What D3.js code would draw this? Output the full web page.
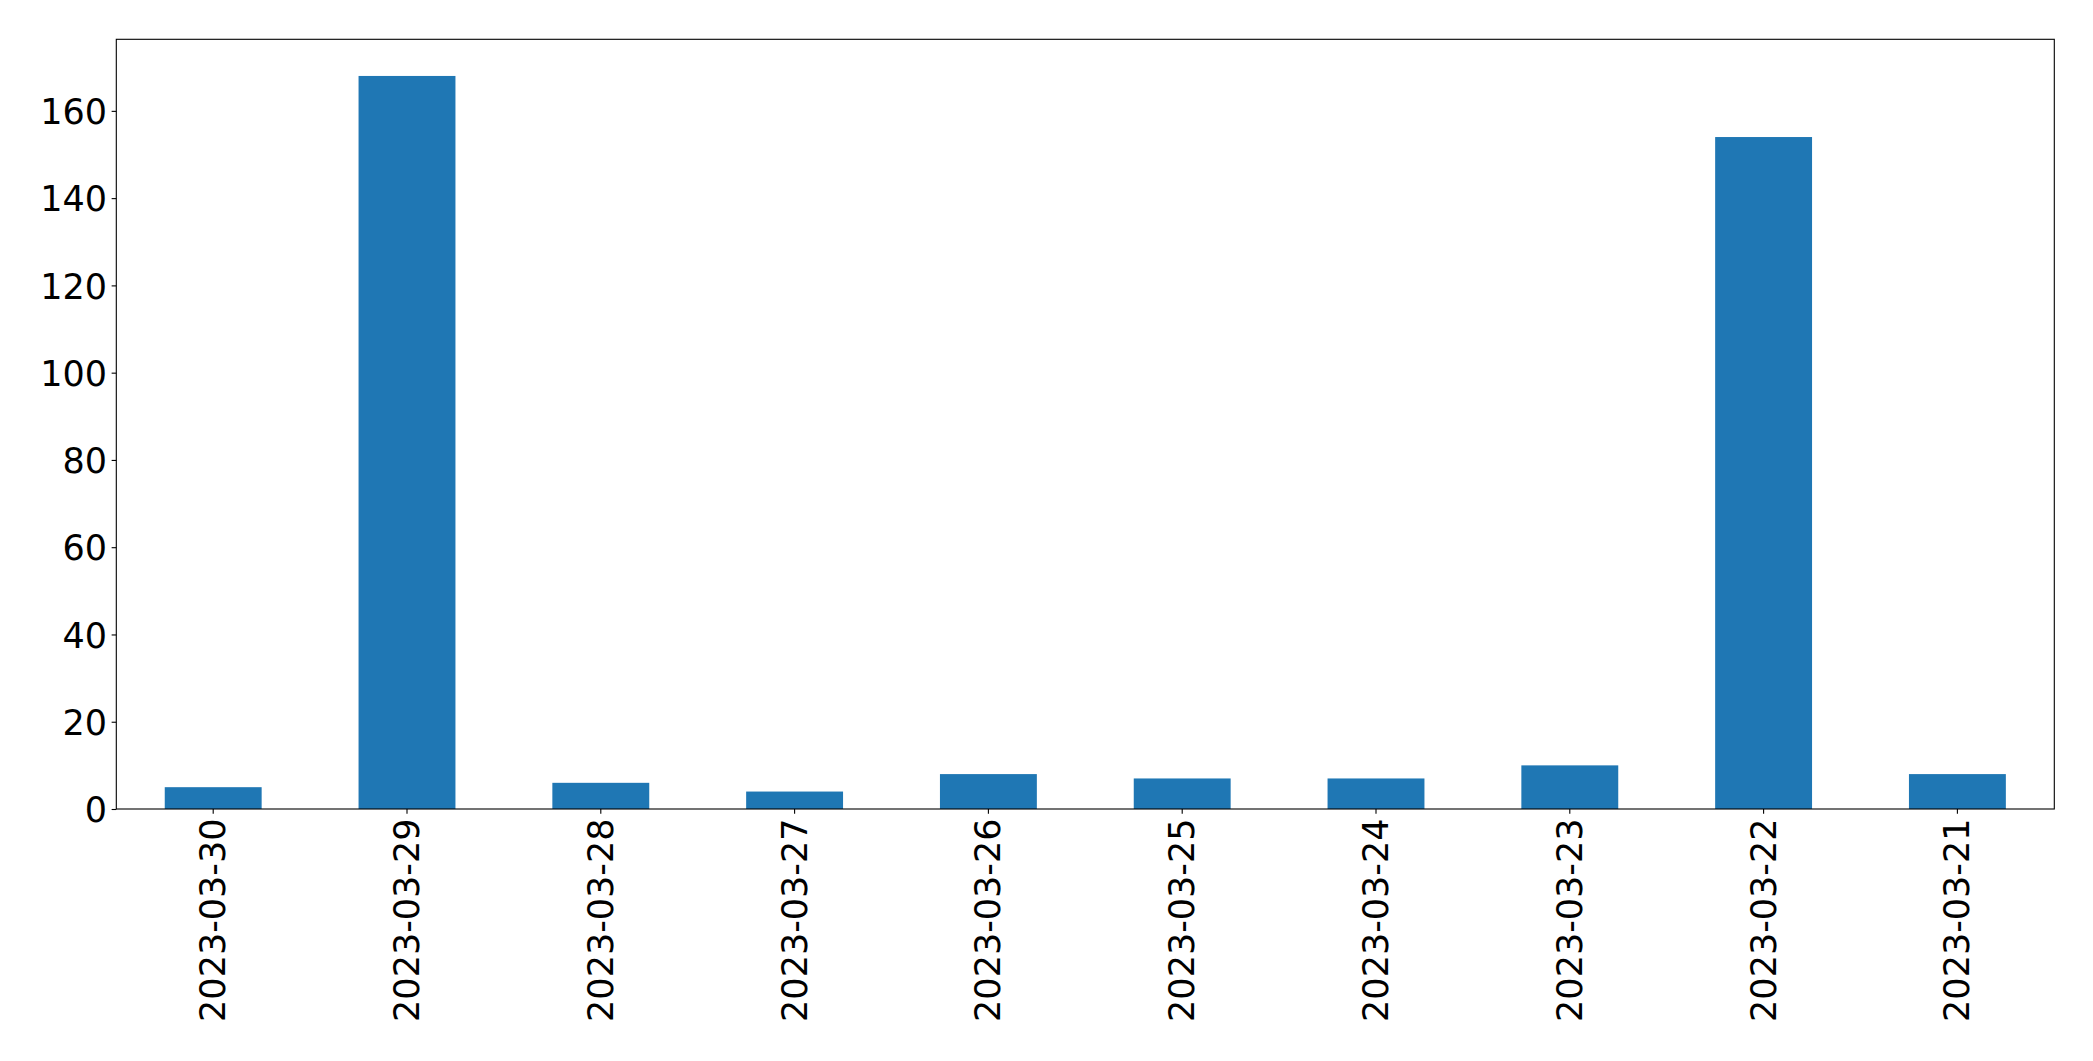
<!DOCTYPE html>
<html>
<head>
<meta charset="utf-8">
<script src="https://cdn.jsdelivr.net/npm/d3@7"></script>
<style>
  html, body { margin: 0; padding: 0; background: #fff; }
  svg { display: block; }
</style>
</head>
<body>
<svg id="chart" width="2093" height="1061"></svg>
<script>
const categories = ["2023-03-30","2023-03-29","2023-03-28","2023-03-27","2023-03-26","2023-03-25","2023-03-24","2023-03-23","2023-03-22","2023-03-21"];
const values = [5, 168, 6, 4, 8, 7, 7, 10, 154, 8];
const yTicks = [0, 20, 40, 60, 80, 100, 120, 140, 160];

const W = 2093, H = 1061;
const margin = {left: 116.3, top: 39.3, right: W - 2054.3, bottom: H - 809};
const iw = W - margin.left - margin.right;
const ih = H - margin.top - margin.bottom;
const font = "'DejaVu Sans', sans-serif";
const fs = 35;

const svg = d3.select("#chart");
const g = svg.append("g").attr("transform", `translate(${margin.left},${margin.top})`);

const x = d3.scaleBand().domain(categories).range([0, iw]).paddingInner(0.5).paddingOuter(0.25);
const ymax = d3.max(values) * 1.05;
const y = d3.scaleLinear().domain([0, ymax]).range([ih, 0]);

g.selectAll("rect.bar").data(values).join("rect")
  .attr("class", "bar")
  .attr("x", (d, i) => x(categories[i]))
  .attr("width", x.bandwidth())
  .attr("y", d => y(d))
  .attr("height", d => ih - y(d))
  .attr("fill", "#1f77b4");

// Y axis
const yAxis = g.append("g").call(d3.axisLeft(y).tickValues(yTicks).tickSize(4.67).tickPadding(4.67).tickFormat(d3.format("d")));
yAxis.select(".domain").remove();
yAxis.selectAll("line").attr("stroke", "#000").attr("stroke-width", 1.1);
yAxis.selectAll("text").attr("font-family", font).attr("font-size", fs).attr("fill", "#000").attr("dy", "0.36em");

// X axis
const xAxis = g.append("g").attr("transform", `translate(0,${ih})`)
  .call(d3.axisBottom(x).tickSize(4.67).tickPadding(0));
xAxis.select(".domain").remove();
xAxis.selectAll("line").attr("stroke", "#000").attr("stroke-width", 1.1);
xAxis.selectAll("text")
  .attr("font-family", font).attr("font-size", fs).attr("fill", "#000")
  .attr("text-anchor", "end")
  .attr("dy", null)
  .attr("y", 0)
  .attr("x", 0)
  .attr("transform", "translate(0,9.5) rotate(-90)")
  .attr("dominant-baseline", "central");

// Spines
g.append("rect").attr("x", 0).attr("y", 0).attr("width", iw).attr("height", ih)
  .attr("fill", "none").attr("stroke", "#000").attr("stroke-width", 1.1);
</script>
</body>
</html>
